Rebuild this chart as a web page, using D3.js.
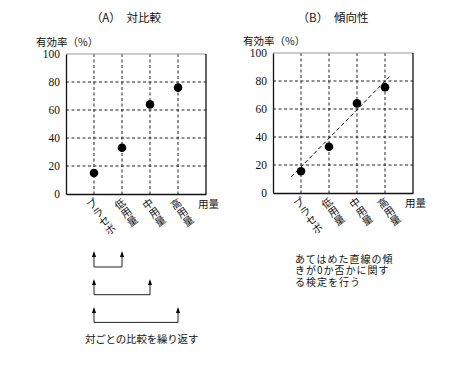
<!DOCTYPE html>
<html>
<head>
<meta charset="utf-8">
<script src="https://cdn.jsdelivr.net/npm/d3@7"></script>
<style>
  body { margin: 0; background: #fff; }
  svg { display: block; }
  text { fill: #111; }
</style>
</head>
<body>
<div id="chart"></div>
<script>
// data
const categories = ["プラセボ", "低用量", "中用量", "高用量"];
const efficacyA = [15, 33, 64, 76];
const efficacyB = [15.5, 33, 64, 75.5];
const yTicks = [0, 20, 40, 60, 80, 100];
const trendX = [0.65, 4.2];     // dashed line in (B), in category units
const trendY = [11.5, 84];
const comparisons = [[1, 2], [1, 3], [1, 4]];   // placebo vs each dose
const noteA = "対ごとの比較を繰り返す";
const noteB = ["あてはめた直線の傾", "きが0か否かに関す", "る検定を行う"];

(() => {
    const width = 456, height = 377;
    const jp = "'Noto Sans CJK JP', sans-serif";
    const serif = "'Liberation Serif', 'DejaVu Serif', serif";

    const svg = d3.select("#chart").append("svg")
        .attr("width", width)
        .attr("height", height);

    function panel(left, top, title, values) {
        const w = 140, h = 140;
        const x = d3.scaleLinear().domain([0, 5]).range([left, left + w]);
        const y = d3.scaleLinear().domain([0, 100]).range([top + h, top]);
        const g = svg.append("g");

        // dashed grid
        g.selectAll(".gy").data(yTicks.filter(t => t > 0 && t < 100)).enter()
            .append("line")
            .attr("x1", left).attr("x2", left + w)
            .attr("y1", d => y(d)).attr("y2", d => y(d))
            .attr("stroke", "#222").attr("stroke-dasharray", "3,2.5");
        g.selectAll(".gx").data(categories).enter()
            .append("line")
            .attr("x1", (d, i) => x(i + 1)).attr("x2", (d, i) => x(i + 1))
            .attr("y1", top).attr("y2", top + h)
            .attr("stroke", "#222").attr("stroke-dasharray", "3,2.5");

        // frame
        g.append("line").attr("x1", left).attr("x2", left + w).attr("y1", top).attr("y2", top)
            .attr("stroke", "#999");
        g.append("line").attr("x1", left + w).attr("x2", left + w).attr("y1", top).attr("y2", top + h)
            .attr("stroke", "#111").attr("stroke-width", 1.3);

        const yAxis = g.append("g")
            .attr("transform", `translate(${left},0)`)
            .call(d3.axisLeft(y).tickValues(yTicks).tickSize(0).tickPadding(6));
        const xAxis = g.append("g")
            .attr("transform", `translate(0,${top + h})`)
            .call(d3.axisBottom(x).tickValues([]).tickSize(0));
        [yAxis, xAxis].forEach(a => {
            a.select(".domain").attr("stroke", "#111").attr("stroke-width", 1.3);
            a.selectAll("text").style("font-family", serif).style("font-size", "11.5px").attr("fill", "#111");
        });

        // category labels: each glyph placed along a slanted column
        const fs = 10.5, dir = 54 * Math.PI / 180, tilt = -36;
        const cat = g.selectAll(".cat").data(categories).enter()
            .append("g")
            .attr("class", "cat")
            .attr("transform", (d, i) => `translate(${x(i + 1) - 2},${top + h + 10})`);
        cat.selectAll("text").data(d => Array.from(d)).enter()
            .append("text")
            .attr("transform", (c, k) =>
                `translate(${k * fs * Math.cos(dir)},${k * fs * Math.sin(dir)}) rotate(${tilt})`)
            .attr("text-anchor", "middle")
            .attr("dy", "0.36em")
            .style("font-family", jp).style("font-size", fs + "px")
            .text(c => c);

        g.append("text")
            .attr("x", left + w - 8).attr("y", top + h + 14)
            .style("font-family", jp).style("font-size", "10.5px")
            .text("用量");

        g.append("text")
            .attr("x", left - 30).attr("y", top - 8)
            .style("font-family", jp).style("font-size", "10.5px")
            .text("有効率（%）");

        g.append("text")
            .attr("x", left + 60).attr("y", 22)
            .attr("text-anchor", "middle")
            .style("font-family", jp).style("font-size", "11.5px")
            .text(title);

        g.selectAll(".dot").data(values).enter()
            .append("circle")
            .attr("cx", (d, i) => x(i + 1))
            .attr("cy", d => y(d))
            .attr("r", 4.3)
            .attr("fill", "#000");

        return { x, y, g };
    }

    const A = panel(66, 54, "（A）　対比較", efficacyA);
    const B = panel(273, 53, "（B）　傾向性", efficacyB);

    // trend line in B
    B.g.append("line")
        .attr("x1", B.x(trendX[0])).attr("y1", B.y(trendY[0]))
        .attr("x2", B.x(trendX[1])).attr("y2", B.y(trendY[1]))
        .attr("stroke", "#111").attr("stroke-dasharray", "4,2.5");

    // pairwise comparison brackets under A
    const br = A.g.selectAll(".br").data(comparisons).enter().append("g");
    const tipY = i => 251 + i * 28, baseY = i => 267 + i * 27.7;
    br.append("path")
        .attr("d", (d, i) => `M${A.x(d[0])},${tipY(i) + 4}V${baseY(i)}H${A.x(d[1])}V${tipY(i) + 4}`)
        .attr("fill", "none").attr("stroke", "#222").attr("stroke-width", 1);
    d3.range(2).forEach(k => {
        br.append("path")
            .attr("d", (d, i) => `M${A.x(d[k])},${tipY(i)}l-2,6h4z`)
            .attr("fill", "#000");
    });

    A.g.append("text")
        .attr("x", 85).attr("y", 343)
        .style("font-family", jp).style("font-size", "10.5px")
        .style("letter-spacing", "-0.2px")
        .text(noteA);

    B.g.append("text")
        .style("font-family", jp).style("font-size", "10px")
        .style("letter-spacing", "1px")
        .selectAll("tspan").data(noteB).enter()
        .append("tspan")
        .attr("x", 295).attr("y", (d, i) => 263 + i * 11.3)
        .text(d => d);
})();
</script>
</body>
</html>
